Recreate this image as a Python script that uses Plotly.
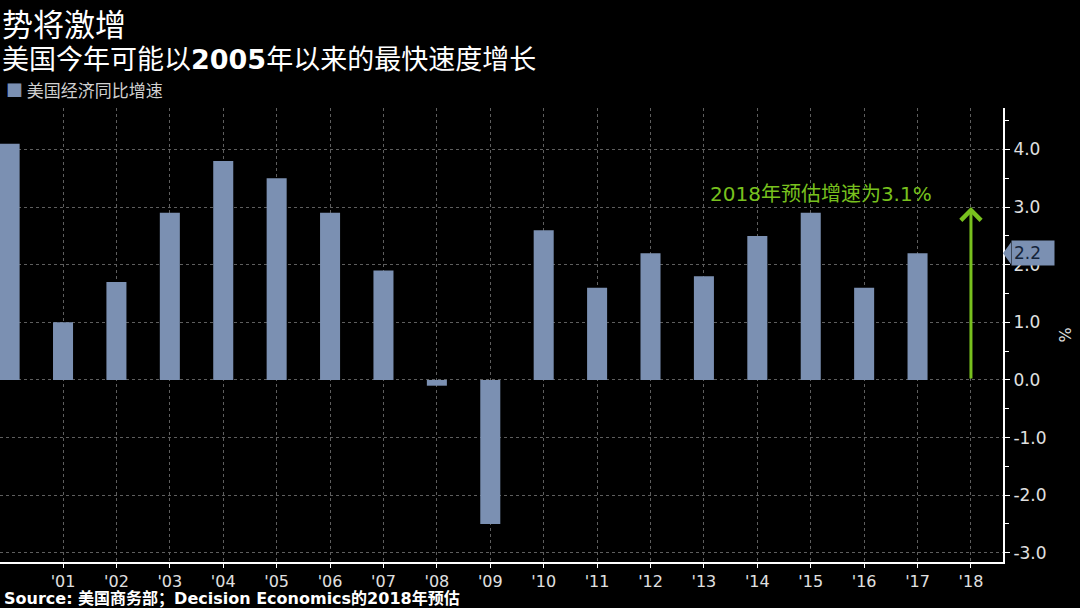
import plotly.graph_objects as go

years = list(range(2000, 2018))
growth = [4.1, 1.0, 1.7, 2.9, 3.8, 3.5, 2.9, 1.9, -0.1, -2.5, 2.6, 1.6, 2.2, 1.8, 2.5, 2.9, 1.6, 2.2]
forecast_year = 2018
forecast_arrow_top = 3.0
tick_years = list(range(2001, 2019))
tick_labels = ["'%02d" % (y % 100) for y in tick_years]
y_ticks = [-3, -2, -1, 0, 1, 2, 3, 4]
y_tick_labels = ["%.1f" % v for v in y_ticks]

BAR = "#7b90b2"
GREEN = "#78c11e"
CJK = "Noto Sans CJK SC"
TICKF = "DejaVu Sans"
MIX = "DejaVu Sans, Noto Sans CJK SC"

T, B, H = 108, 46, 454  # top margin, bottom margin, plot height in px

fig = go.Figure()
fig.add_trace(go.Bar(x=years, y=growth, marker=dict(color=BAR, line=dict(width=0)),
                     width=0.375, name="美国经济同比增速", showlegend=False))

fig.update_layout(
    width=1080, height=608,
    paper_bgcolor="black", plot_bgcolor="black",
    margin=dict(l=0, r=77, t=T, b=B),
    xaxis=dict(range=[1999.82, 2018.6], tickvals=tick_years, ticktext=tick_labels,
               tickfont=dict(family=TICKF, size=16, color="#e0e0e0"),
               showgrid=True, gridcolor="#5e5e5e", griddash="3px,3px", gridwidth=1,
               showline=True, linecolor="white", linewidth=2,
               ticks="outside", ticklen=4, tickcolor="white", zeroline=False),
    yaxis=dict(side="right", range=[-3.16, 4.72], tickvals=y_ticks, ticktext=y_tick_labels,
               tickfont=dict(family=TICKF, size=17, color="#e0e0e0"),
               showgrid=True, gridcolor="#5e5e5e", griddash="3px,3px", gridwidth=1,
               showline=True, linecolor="white", linewidth=2,
               ticks="outside", ticklen=5, tickcolor="white", zeroline=False,
               minor=dict(dtick=0.5, tick0=0.5, ticks="outside", ticklen=4, tickcolor="white", showgrid=False),
               title=dict(text="%", font=dict(family=TICKF, size=16, color="#e0e0e0"), standoff=14)),
)

def py(px_from_top):
    return 1 + (T - px_from_top) / H

# Title and subtitle
fig.add_annotation(xref="paper", yref="paper", x=0, xanchor="left", yanchor="top",
                   y=py(-2), text="势将激增", showarrow=False,
                   font=dict(family=CJK, size=31, color="white"), xshift=0)
fig.add_annotation(xref="paper", yref="paper", x=0, xanchor="left", yanchor="top",
                   y=py(36),
                   text="美国今年可能以<b><span style='font-family:DejaVu Sans'>2005</span></b>年以来的最快速度增长",
                   showarrow=False, font=dict(family=CJK, size=27, color="white"), xshift=0)

# Legend (as text)
fig.add_annotation(xref="paper", yref="paper", x=0, xanchor="left", yanchor="middle",
                   y=py(90),
                   text=f"<span style='color:{BAR}'>■</span> 美国经济同比增速", showarrow=False,
                   font=dict(family=CJK, size=17, color="#d0d0d0"), xshift=4)

# Source
fig.add_annotation(xref="paper", yref="paper", x=0, xanchor="left", yanchor="middle",
                   y=py(598),
                   text="<b>Source: 美国商务部；Decision Economics的2018年预估</b>", showarrow=False,
                   font=dict(family=MIX, size=16, color="white"), xshift=2)

# Forecast arrow
fig.add_annotation(x=forecast_year, y=forecast_arrow_top, ax=forecast_year, ay=0,
                   xref="x", yref="y", axref="x", ayref="y", text="", showarrow=True,
                   arrowhead=4, arrowsize=1.3, arrowwidth=3, arrowcolor=GREEN)
fig.add_annotation(x=2015.2, y=3.22, xref="x", yref="y", text="2018年预估增速为3.1%",
                   showarrow=False, font=dict(family=MIX, size=20, color=GREEN))

# Last value tag
last = growth[-1]
fig.add_shape(type="path", xref="paper", yref="y",
              path=f"M 1.0,{last} L 1.008,{last + 0.19} L 1.008,{last - 0.19} Z",
              fillcolor=BAR, line=dict(width=0))
fig.add_annotation(xref="paper", yref="y", x=1.008, y=last, xanchor="left", yanchor="middle",
                   text=f"{last:.1f}", showarrow=False, bgcolor=BAR, borderpad=2,
                   font=dict(family=TICKF, size=17, color="#14243a"), width=38, align="left")

fig.write_html("out.html", config={"displayModeBar": False},
               post_script="document.body.style.margin='0';document.body.style.overflow='hidden';")
